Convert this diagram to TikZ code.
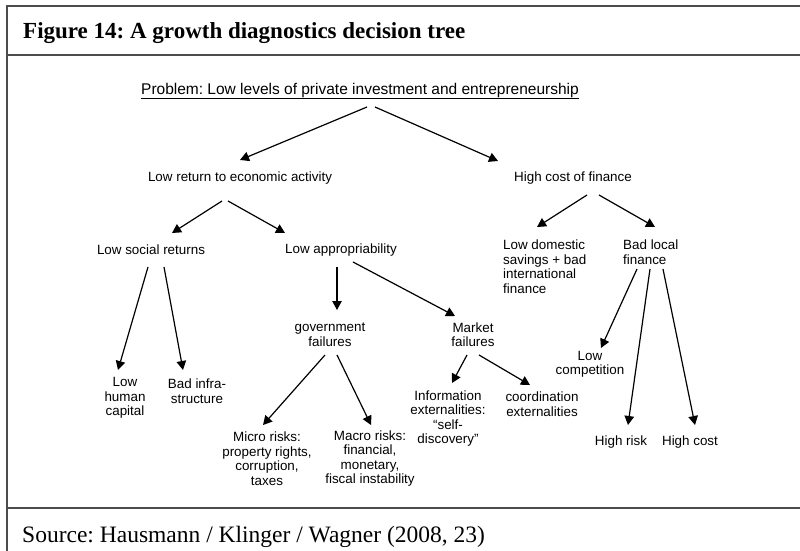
\documentclass[tikz,border=0pt]{standalone}
\usepackage{fontspec}
\setmainfont{Liberation Serif}
\newfontfamily\arialfont{Liberation Sans}
\usetikzlibrary{arrows.meta,calc}
\frenchspacing

\begin{document}
\begin{tikzpicture}[x=1pt,y=-1pt,
  lbl/.style={font=\arialfont\fontsize{13.4}{14.5}\selectfont,align=center,inner sep=0pt},
  lbll/.style={lbl,align=left,anchor=west},
  arr/.style={-{Triangle[length=9pt,width=9.5pt]},line width=1.2pt},
  frame/.style={line width=1.8pt,draw=black!70}]
\useasboundingbox (0,0) rectangle (800,551);
%%%%%%%%% frame, title, source
\draw[frame] (7,551) -- (7,6) -- (800,6);
\draw[frame] (7,55) -- (800,55);
\draw[frame] (7,508) -- (800,508);
\node[anchor=base west,inner sep=0pt,font=\bfseries\fontsize{23}{26}\selectfont] (title) at (23,39) {Figure 14: A growth diagnostics decision tree};
\node[anchor=base west,inner sep=0pt,font=\fontsize{23.5}{26}\selectfont] (source) at (22,542) {Source: Hausmann / Klinger / Wagner (2008, 23)};

%%%%%%%%% top of the tree
\node[lbl,font=\arialfont\fontsize{15.5}{17}\selectfont] (prob) at (360,91) {\underline{Problem: Low levels of private investment and entrepreneurship}};

\node[lbl] (lra) at (240,178) {Low return to economic activity};
\node[lbl] (hcf) at (573,178) {High cost of finance};

\draw[arr] ($(prob)+(7,16)$) -- ($(lra)+(0,-18)$);
\draw[arr] ($(prob)+(15,16)$) -- ($(hcf)+(-75,-17)$);

%%%%%%%%% low return branch
\node[lbl] (lsr) at (151,250) {Low social returns};
\node[lbl] (lap) at (341,250) {Low appropriability};

\draw[arr] ($(lra)+(-18,23)$) -- ($(lsr)+(21,-17)$);
\draw[arr] ($(lra)+(-12,23)$) -- ($(lap)+(-56,-17)$);

\node[lbl] (lhc) at (125,398) {Low\\human\\capital};
\node[lbl] (bis) at (197,391) {Bad infra-\\structure};

\draw[arr] ($(lsr)+(-3,17)$) -- ($(lhc)+(-7,-28)$);
\draw[arr] ($(lsr)+(13,17)$) -- ($(bis)+(-14,-21)$);

\node[lbl] (gf) at (330,334.5) {government\\failures};
\node[lbl] (mf) at (473,334.5) {Market\\failures};

\draw[arr] ($(lap)+(-4,17)$) -- ($(gf)+(7,-24.5)$);
\draw[arr] ($(lap)+(12,12)$) -- ($(mf)+(-18,-18.5)$);

\node[lbl] (micro) at (267,458.5) {Micro risks:\\property rights,\\corruption,\\taxes};
\node[lbl] (macro) at (370,458.5) {Macro risks:\\financial,\\monetary,\\fiscal instability};

\draw[arr] ($(gf)+(-5,20.5)$) -- ($(micro)+(-4,-33.5)$);
\draw[arr] ($(gf)+(7,20.5)$) -- ($(macro)+(1,-33.5)$);

\node[lbl] (info) at (448,418.5) {Information\\externalities:\\“self-\\discovery”};
\node[lbl] (coord) at (542,404) {coordination\\externalities};

\draw[arr] ($(mf)+(-6,20.5)$) -- ($(info)+(4,-35.5)$);
\draw[arr] ($(mf)+(6,20.5)$) -- ($(coord)+(-12,-19)$);

%%%%%%%%% finance branch
\node[lbll] (ldf) at (503,266.5) {Low domestic\\savings + bad\\international\\finance};
\node[lbll] (blf) at (623,252) {Bad local\\finance};

\draw[arr] ($(hcf)+(14,17)$) -- ($(ldf.west)+(34,-39.5)$);
\draw[arr] ($(hcf)+(26,17)$) -- ($(blf.west)+(32,-25)$);

\node[lbl] (lc) at (590,364.5) {Low\\competition};
\node[lbl] (hr) at (621,442) {High risk};
\node[lbl] (hc) at (690,442) {High cost};

\draw[arr] ($(blf.west)+(14,17)$) -- ($(lc)+(11,-16.5)$);
\draw[arr] ($(blf.west)+(27,17)$) -- ($(hr)+(7,-17)$);
\draw[arr] ($(blf.west)+(40,17)$) -- ($(hc)+(5,-17)$);

\end{tikzpicture}
\end{document}
